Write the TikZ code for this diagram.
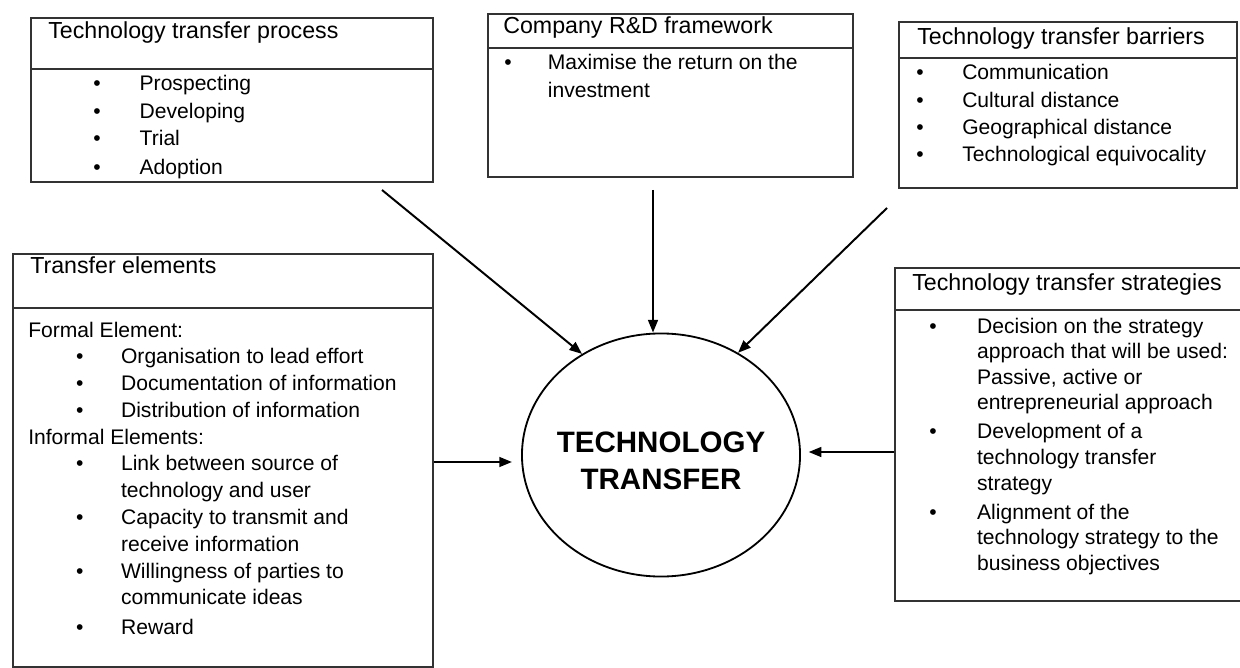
\documentclass[tikz,border=0pt]{standalone}
\usepackage{fontspec}
\setmainfont{Liberation Sans}
\usepackage{array}
\usetikzlibrary{positioning,shapes.geometric,arrows.meta}

\begin{document}
\begin{tikzpicture}[
  x = 0.025cm,
  y = -0.025cm,
  frame/.style = {
    draw = black!80,
    line width = 1.1pt,
    rectangle,
    anchor = north west,
    inner sep = 0pt,
  },
  heading/.style = {
    anchor = base west,
    inner sep = 0pt,
    font = \fontsize{16.5}{20}\selectfont,
  },
  items/.style = {
    anchor = base west,
    inner sep = 0pt,
    font = \fontsize{15}{19.4}\selectfont,
  },
  hub/.style = {
    draw,
    ellipse,
    line width = 1.3pt,
    inner sep = 0pt,
    minimum width = 6.95cm,
    minimum height = 6.075cm,
  },
  feed/.style = {
    ->,
    line width = 1.4pt,
  },
  >={Triangle[length=9pt,width=7pt]},
]

  \useasboundingbox (0,0) rectangle (1240,668);

  % centre
  \node[hub] (tt) at (661,455) {};
  \node[font=\fontsize{21}{26}\selectfont\bfseries, align=center, inner sep=0pt]
    (hubtext) at (661,461) {TECHNOLOGY\\TRANSFER};

  % technology transfer process
  \node[frame, minimum width=10.05cm, minimum height=4.1cm] (procbox) at (30,17) {};
  \draw[black!80, line width=1.1pt] (procbox.west |- 0,69) -- (procbox.east |- 0,69);
  \node[heading] (proctitle) at (48,39) {Technology transfer process};
  \node[items] (proclist) at (93,91) {\begin{tabular}[t]{@{}p{33pt}@{}l@{}}
    \textbullet & Prospecting\\
    \textbullet & Developing\\
    \textbullet & Trial\\[1pt]
    \textbullet & Adoption
  \end{tabular}};

  % company R&D framework
  \node[frame, minimum width=9.125cm, minimum height=4.075cm] (rdbox) at (487,13) {};
  \draw[black!80, line width=1.1pt] (rdbox.west |- 0,48) -- (rdbox.east |- 0,48);
  \node[heading] (rdtitle) at (503,34) {Company R\&D framework};
  \node[items] (rdlist) at (504,70) {\begin{tabular}[t]{@{}p{31pt}@{}l@{}}
    \textbullet & Maximise the return on the\\
    & investment
  \end{tabular}};

  % technology transfer barriers
  \node[frame, minimum width=8.45cm, minimum height=4.15cm] (barbox) at (898,21) {};
  \draw[black!80, line width=1.1pt] (barbox.west |- 0,58) -- (barbox.east |- 0,58);
  \node[heading] (bartitle) at (917,45) {Technology transfer barriers};
  \node[items] (barlist) at (916,80) {\begin{tabular}[t]{@{}p{32.7pt}@{}l@{}}
    \textbullet & Communication\\
    \textbullet & Cultural distance\\
    \textbullet & Geographical distance\\
    \textbullet & Technological equivocality
  \end{tabular}};

  % transfer elements
  \node[frame, minimum width=10.5cm, minimum height=10.325cm] (elembox) at (12,253) {};
  \draw[black!80, line width=1.1pt] (elembox.west |- 0,308) -- (elembox.east |- 0,308);
  \node[heading] (elemtitle) at (30,274) {Transfer elements};
  \node[items, font=\fontsize{15}{19.05}\selectfont] (elemlist) at (28,337) {\begin{tabular}[t]{@{}p{34pt}@{}p{32pt}@{}l@{}}
    \multicolumn{3}{@{}l@{}}{Formal Element:}\\
    & \textbullet & Organisation to lead effort\\
    & \textbullet & Documentation of information\\
    & \textbullet & Distribution of information\\
    \multicolumn{3}{@{}l@{}}{Informal Elements:}\\
    & \textbullet & Link between source of\\
    & & technology and user\\
    & \textbullet & Capacity to transmit and\\
    & & receive information\\
    & \textbullet & Willingness of parties to\\
    & & communicate ideas\\[2pt]
    & \textbullet & Reward
  \end{tabular}};

  % technology transfer strategies
  \node[frame, minimum width=8.675cm, minimum height=8.325cm] (stratbox) at (894,267) {};
  \draw[black!80, line width=1.1pt] (stratbox.west |- 0,310) -- (stratbox.east |- 0,310);
  \node[heading] (strattitle) at (912,291) {Technology transfer strategies};
  \node[items, font=\fontsize{15}{18.2}\selectfont] (stratlist) at (929,333) {\begin{tabular}[t]{@{}p{34pt}@{}l@{}}
    \textbullet & Decision on the strategy\\
    & approach that will be used:\\
    & Passive, active or\\
    & entrepreneurial approach\\[2.5pt]
    \textbullet & Development of a\\
    & technology transfer\\
    & strategy\\[2.5pt]
    \textbullet & Alignment of the\\
    & technology strategy to the\\
    & business objectives
  \end{tabular}};

  % connectors
  \coordinate (procfrom) at (382,190);
  \coordinate (rdfrom) at (653,190);
  \coordinate (barfrom) at (887,208);
  \coordinate (elemfrom) at (elembox.east |- 0,462);
  \coordinate (stratfrom) at (stratbox.west |- 0,452);

  \draw[feed] (procfrom) -- (tt.128);
  \draw[feed] (rdfrom) -- (rdfrom |- tt.north);
  \draw[feed] (barfrom) -- (tt.53.5);
  \draw[feed, shorten >=6.5pt] (elemfrom) -- (elemfrom -| tt.west);
  \draw[feed, shorten >=5.5pt] (stratfrom) -- (stratfrom -| tt.east);

\end{tikzpicture}
\end{document}
